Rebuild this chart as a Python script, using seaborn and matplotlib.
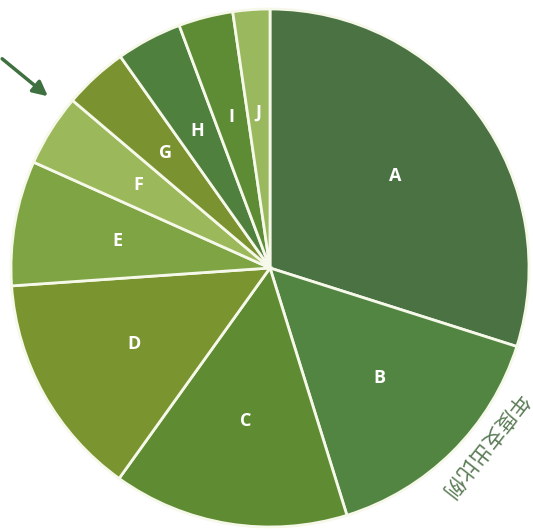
import matplotlib
matplotlib.use("Agg")
import matplotlib.pyplot as plt
import seaborn as sns

# slice names and shares (percent)
names = ["A", "B", "C", "D", "E", "F", "G", "H", "I", "J"]
shares = [29.9, 15.3, 14.7, 14.0, 7.8, 4.5, 4.0, 4.1, 3.4, 2.3]
colors = ["#4a7243", "#538542", "#5f8c33", "#7a9430", "#7ea443",
          "#9bb85a", "#7a9230", "#50803e", "#5e8c35", "#9ab95e"]
title = "年度支出比例"

sns.set_theme(style="white")
plt.rcParams['font.family'] = ['Noto Sans CJK SC', 'DejaVu Sans']

fig = plt.figure(figsize=(5.33, 5.31), dpi=100)
ax = fig.add_axes([0, 0, 1, 1])

it = iter(names)
ax.pie(shares, colors=colors, startangle=90, counterclock=False,
       autopct=lambda p: next(it), pctdistance=0.6,
       wedgeprops=dict(edgecolor="#f6f8ea", linewidth=2),
       textprops=dict(color="white", fontsize=13, fontweight="bold",
                      family=["Open Sans", "DejaVu Sans"]))

# crop so the pie nearly fills the frame, centre at (270, 268) px
s = 259.0
ax.set_xlim(-270 / s, (533 - 270) / s)
ax.set_ylim(-(531 - 268) / s, 268 / s)
ax.set_aspect("equal")
ax.axis("off")

# rotated caption along lower-right rim
fig.text(484 / 533, 1 - 446 / 531, title, rotation=-128, color="#5b7b56",
         fontsize=15, ha="center", va="center",
         family=['Noto Sans CJK SC', 'DejaVu Sans'])

# arrow at top-left
ax.annotate("", xy=(50 / 533, 1 - 98 / 531), xytext=(0, 1 - 57 / 531),
            xycoords="figure fraction", textcoords="figure fraction",
            arrowprops=dict(arrowstyle="-|>", color="#3e7040", lw=2.5,
                            mutation_scale=22))

fig.savefig("out.png", dpi=100)
